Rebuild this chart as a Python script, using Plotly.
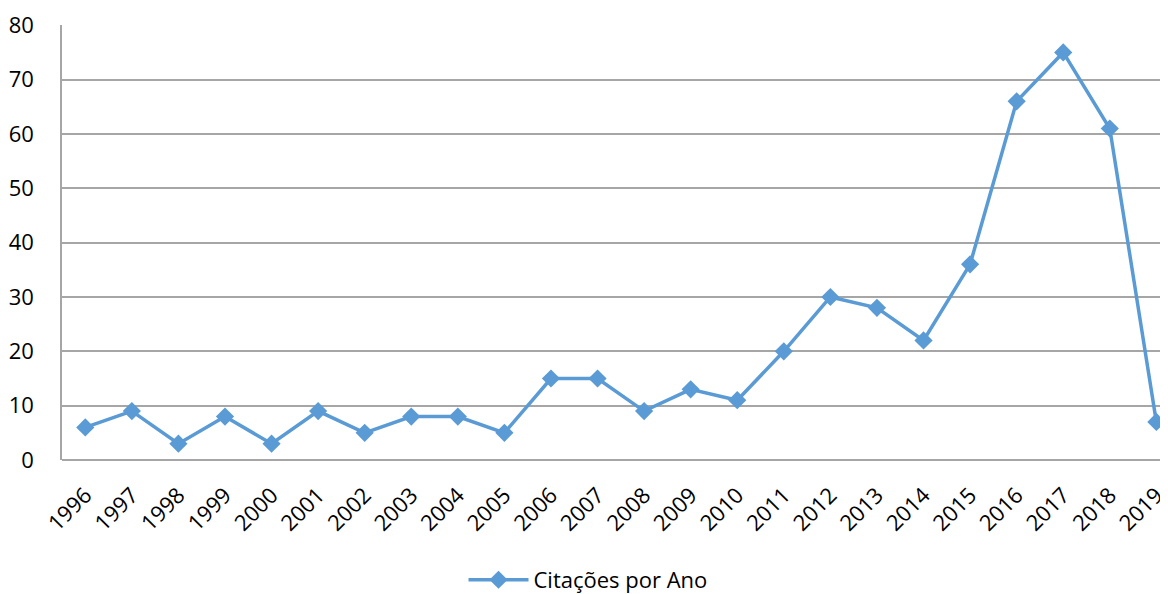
import plotly.graph_objects as go

years = ["1996","1997","1998","1999","2000","2001","2002","2003","2004","2005","2006","2007",
         "2008","2009","2010","2011","2012","2013","2014","2015","2016","2017","2018","2019"]
citations = [6, 9, 3, 8, 3, 9, 5, 8, 8, 5, 15, 15, 9, 13, 11, 20, 30, 28, 22, 36, 66, 75, 61, 7]
y_ticks = [0, 10, 20, 30, 40, 50, 60, 70, 80]

color = "#5B9BD5"
grid = "#A6A6A6"
fig = go.Figure()
fig.add_trace(go.Scatter(
    x=list(range(len(years))), y=citations, mode="lines+markers",
    name="Citações por Ano",
    line=dict(color=color, width=3.5),
    marker=dict(symbol="diamond", size=14, color=color),
))

font = "Open Sans, Liberation Sans, sans-serif"
fig.update_layout(
    width=1160, height=586,
    margin=dict(l=54, r=0, t=17, b=134),
    paper_bgcolor="white", plot_bgcolor="white",
    font=dict(family=font, size=22, color="black"),
    showlegend=True,
    legend=dict(orientation="h", x=0.5, xanchor="center", xref="container",
                y=0.024, yanchor="middle", yref="container",
                font=dict(size=22, color="black"), itemwidth=60),
    xaxis=dict(range=[-0.5, 23.25], tickmode="array", tickvals=list(range(len(years))),
               ticktext=years, tickangle=-45, showgrid=False, zeroline=False,
               showline=False, ticks="", ticklabelstandoff=17,
               ticklabeloverflow="allow",
               tickfont=dict(size=22, color="black")),
    yaxis=dict(range=[0, 80.05], tickvals=y_ticks, showgrid=True, gridcolor=grid,
               gridwidth=1.5, zeroline=True, zerolinecolor=grid, zerolinewidth=1.5,
               showline=True, linecolor=grid, linewidth=1.5, ticks="",
               ticklabelstandoff=22, tickfont=dict(size=22, color="black")),
)
fig.write_html("out.html")
